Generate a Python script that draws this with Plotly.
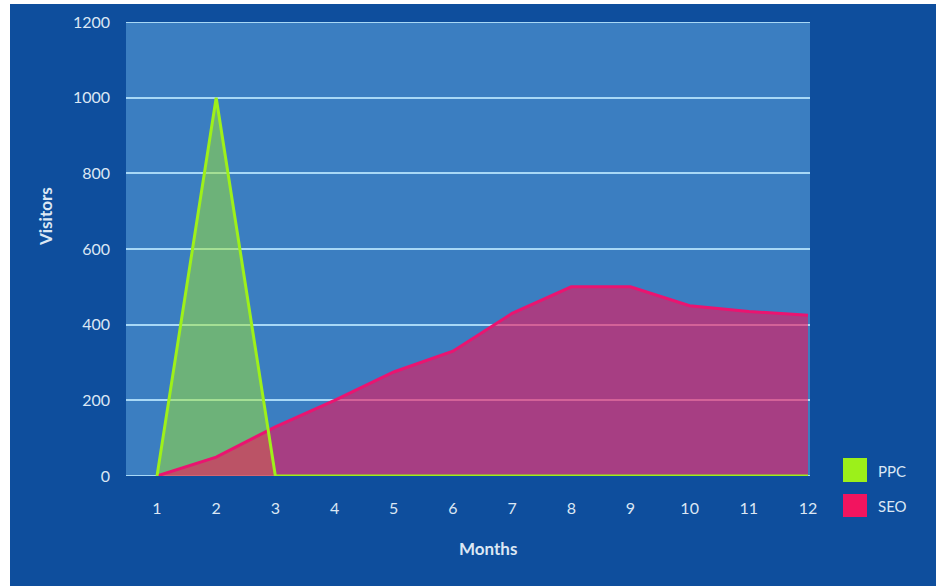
import plotly.graph_objects as go

# Monthly visitors by channel
months = [1, 2, 3, 4, 5, 6, 7, 8, 9, 10, 11, 12]
ppc_visitors = [0, 1000, 0, 0, 0, 0, 0, 0, 0, 0, 0, 0]
seo_visitors = [0, 50, 130, 200, 275, 330, 430, 500, 500, 450, 435, 425]
y_ticks = [0, 200, 400, 600, 800, 1000, 1200]
series_names = ["PPC", "SEO"]

PAPER = "#0e4e9d"
PLOT_BG = "#3b7ec1"
GRID = "#a8d8f6"
TEXT = "#dbe7f4"
PPC_LINE = "#9ef01a"
PPC_FILL = "rgba(160,230,50,0.5)"
SEO_LINE = "#ea1470"
SEO_FILL = "rgba(240,20,90,0.6)"
FONT = "Lato, Open Sans, sans-serif"

fig = go.Figure()

# PPC area (fill only), SEO area with its outline, PPC outline on top
fig.add_trace(go.Scatter(x=months, y=ppc_visitors, mode="lines", fill="tozeroy",
                         fillcolor=PPC_FILL, line=dict(width=0, color=PPC_LINE),
                         showlegend=False, hoverinfo="skip"))
fig.add_trace(go.Scatter(x=months, y=seo_visitors, mode="lines", fill="tozeroy",
                         fillcolor=SEO_FILL, line=dict(width=3, color=SEO_LINE),
                         name=series_names[1], showlegend=False))
fig.add_trace(go.Scatter(x=months, y=ppc_visitors, mode="lines",
                         line=dict(width=3, color=PPC_LINE),
                         name=series_names[0], showlegend=False))

W, H = 936, 586
ML, MR, MT, MB = 126, 126, 22, 110
pw, ph = W - ML - MR, H - MT - MB


def px(x):
    return (x - ML) / pw


def py(y):
    return 1 - (y - MT) / ph


shapes = [
    # white edges around the frame
    dict(type="rect", xref="paper", yref="paper", x0=px(0), x1=px(10), y0=py(H + 5), y1=py(-5),
         fillcolor="white", line=dict(width=0), layer="above"),
    dict(type="rect", xref="paper", yref="paper", x0=px(0), x1=px(W + 5), y0=py(4), y1=py(-5),
         fillcolor="white", line=dict(width=0), layer="above"),
    # legend swatches
    dict(type="rect", xref="paper", yref="paper", x0=px(843), x1=px(867), y0=py(482), y1=py(458),
         fillcolor="#9cf01a", line=dict(width=0)),
    dict(type="rect", xref="paper", yref="paper", x0=px(843), x1=px(867), y0=py(517), y1=py(494),
         fillcolor="#f2145f", line=dict(width=0)),
]

# gridlines at the bottom and top of the value range
for yv in (y_ticks[0], y_ticks[-1]):
    shapes.append(dict(type="line", xref="paper", yref="y", x0=0, x1=1, y0=yv, y1=yv,
                       line=dict(color=GRID, width=2), layer="below"))

annotations = [
    dict(text=series_names[0], xref="paper", yref="paper", x=px(876), y=py(471), xanchor="left",
         yanchor="middle", showarrow=False, font=dict(family=FONT, size=15, color=TEXT)),
    dict(text=series_names[1], xref="paper", yref="paper", x=px(876), y=py(506), xanchor="left",
         yanchor="middle", showarrow=False, font=dict(family=FONT, size=15, color=TEXT)),
    dict(text="<b>Months</b>", xref="paper", yref="paper", x=px(488), y=py(548), xanchor="center",
         yanchor="middle", showarrow=False, font=dict(family=FONT, size=17, color=TEXT)),
    dict(text="<b>Visitors</b>", xref="paper", yref="paper", x=px(45), y=py(217), xanchor="center",
         yanchor="middle", showarrow=False, textangle=-90, font=dict(family=FONT, size=17, color=TEXT)),
]

fig.update_layout(
    width=W, height=H,
    margin=dict(l=ML, r=MR, t=MT, b=MB, pad=0),
    paper_bgcolor=PAPER,
    plot_bgcolor=PLOT_BG,
    showlegend=False,
    shapes=shapes,
    annotations=annotations,
    xaxis=dict(range=[0.476, 12.034], tickvals=months, showgrid=False, zeroline=False,
               showline=False, ticks="", ticklabelstandoff=21,
               tickfont=dict(family=FONT, size=16, color=TEXT), fixedrange=True),
    yaxis=dict(range=[0, 1200], tickvals=y_ticks, showgrid=True, gridcolor=GRID, gridwidth=2,
               zeroline=False, showline=False, ticks="", ticklabelstandoff=15,
               tickfont=dict(family=FONT, size=16, color=TEXT), fixedrange=True),
)

fig.write_html("out.html")
